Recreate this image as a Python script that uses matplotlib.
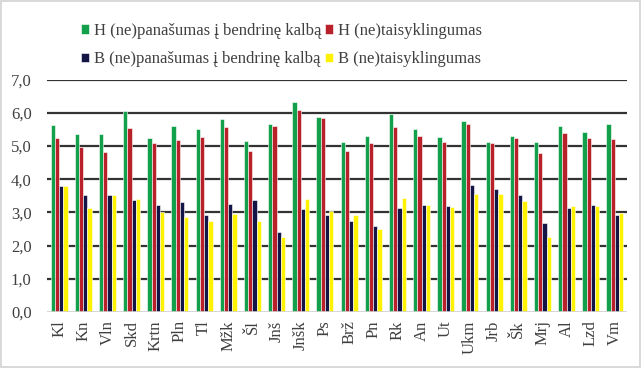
import numpy as np
from matplotlib import pyplot as plt

categories = ['Kl', 'Kn', 'Vln', 'Skd', 'Krtn', 'Pln', 'Tl', 'Mžk', 'Šl', 'Jnš', 'Jnšk', 'Ps',
              'Brž', 'Pn', 'Rk', 'An', 'Ut', 'Ukm', 'Jrb', 'Šk', 'Mrj', 'Al', 'Lzd', 'Vm']

h_panasumas = [5.62, 5.35, 5.37, 6.04, 5.25, 5.61, 5.51, 5.80, 5.14, 5.65, 6.31, 5.87,
               5.12, 5.29, 5.96, 5.50, 5.27, 5.75, 5.11, 5.31, 5.11, 5.61, 5.42, 5.65]
h_taisyklingumas = [5.24, 4.96, 4.82, 5.53, 5.08, 5.17, 5.28, 5.56, 4.85, 5.60, 6.08, 5.85,
                    4.85, 5.09, 5.58, 5.29, 5.11, 5.66, 5.09, 5.25, 4.79, 5.40, 5.23, 5.21]
b_panasumas = [3.79, 3.53, 3.53, 3.38, 3.22, 3.32, 2.93, 3.25, 3.38, 2.40, 3.09, 2.93,
               2.73, 2.59, 3.13, 3.21, 3.19, 3.81, 3.69, 3.52, 2.67, 3.13, 3.23, 2.93]
b_taisyklingumas = [3.80, 3.14, 3.51, 3.39, 3.01, 2.86, 2.75, 2.96, 2.73, 2.27, 3.40, 3.04,
                    2.92, 2.49, 3.44, 3.21, 3.15, 3.54, 3.54, 3.33, 2.25, 3.19, 3.19, 2.99]

labels = ['H (ne)panašumas į bendrinę kalbą', 'H (ne)taisyklingumas',
          'B (ne)panašumas į bendrinę kalbą', 'B (ne)taisyklingumas']
colors = ['#12a04a', '#b8202a', '#141447', '#fff200']

plt.rcParams['font.family'] = ['Liberation Serif', 'DejaVu Serif']

fig = plt.figure(figsize=(6.41, 3.68), dpi=100, linewidth=1.5, edgecolor='#d9d9d9')
ax = fig.add_axes([47 / 641, 1 - 312 / 368, 580 / 641, (312 - 79.5) / 368])

x = np.arange(len(categories))
w = 0.175
series = [h_panasumas, h_taisyklingumas, b_panasumas, b_taisyklingumas]
bars = []
for i, (vals, c, lab) in enumerate(zip(series, colors, labels)):
    b = ax.bar(x + (i - 1.5) * w, vals, w, color=c, edgecolor='white', linewidth=0.4,
               label=lab, zorder=3)
    bars.append(b)

ax.set_xlim(-0.5, len(categories) - 0.5)
ax.set_ylim(0, 7)
ax.set_yticks(np.arange(0, 8))
ax.set_yticklabels([f'{v:.1f}'.replace('.', ',') for v in range(8)], fontsize=12, color='#404040')
ax.set_xticks(x)
ax.set_xticklabels(categories, rotation=90, fontsize=12, color='#404040')
ax.tick_params(axis='y', length=0, pad=11)
ax.tick_params(axis='x', length=0, pad=6)
for s in ax.spines.values():
    s.set_visible(False)
for v in range(1, 8):
    ax.axhline(v, color='#333333', linewidth=1.6, zorder=1)
ax.axhline(0, color='#d0d0d0', linewidth=1.2, zorder=4)

# excel style legend: row 1 = H series, row 2 = B series
handles = [bars[0], bars[2], bars[1], bars[3]]
hl = [labels[0], labels[2], labels[1], labels[3]]
fig.legend(handles, hl, ncol=2, loc='upper left', bbox_to_anchor=(66 / 641, 1 - 8 / 368),
           frameon=False, fontsize=12, handlelength=0.5, handleheight=0.5,
           handletextpad=0.3, columnspacing=0.2, labelspacing=0.75, labelcolor='#404040')

fig.savefig('out.png', dpi=100)
